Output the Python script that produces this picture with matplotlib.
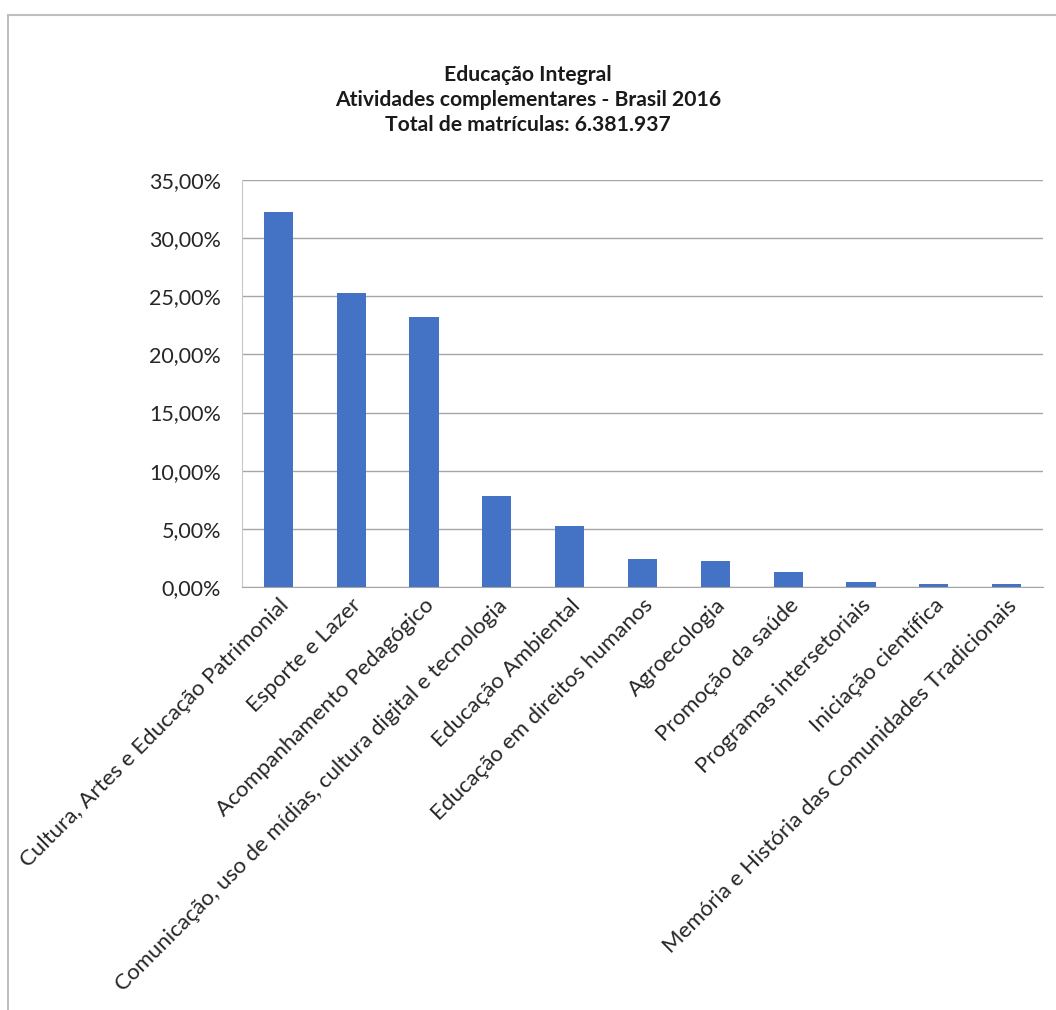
import matplotlib

matplotlib.use("Agg")
import matplotlib.pyplot as plt
from matplotlib.patches import Rectangle
from matplotlib.ticker import FuncFormatter

plt.rcParams["font.family"] = ["Lato", "DejaVu Sans"]

# share of enrolments per complementary activity
categories = [
    "Cultura, Artes e Educação Patrimonial",
    "Esporte e Lazer",
    "Acompanhamento Pedagógico",
    "Comunicação, uso de mídias, cultura digital e tecnologia",
    "Educação Ambiental",
    "Educação em direitos humanos",
    "Agroecologia",
    "Promoção da saúde",
    "Programas intersetoriais",
    "Iniciação científica",
    "Memória e História das Comunidades Tradicionais",
]
shares = [0.3224, 0.2528, 0.2320, 0.0779, 0.0526, 0.0245, 0.0227,
          0.0133, 0.0043, 0.0023, 0.0023]
y_ticks = [0.0, 0.05, 0.10, 0.15, 0.20, 0.25, 0.30, 0.35]
title_lines = [
    "Educação Integral",
    "Atividades complementares - Brasil 2016",
    "Total de matrículas: 6.381.937",
]

W, H = 1056, 1010
BAR = "#4472C4"
GRID = "#a6a6a6"

fig = plt.figure(figsize=(W / 100, H / 100), dpi=100)

# the chart frame, cut off at right and bottom in the original screenshot
fig.add_artist(Rectangle((8 / W, -0.1), 1.2, 1.1 - 15 / H, transform=fig.transFigure,
                         fill=False, ec="#bfbfbf", lw=1.5))

for i, line in enumerate(title_lines):
    fig.text(0.5, 1 - (75 + 25 * i) / H, line, ha="center", va="center",
             fontsize=15.2, fontweight="bold", color="#1a1a1a")

ax = fig.add_axes([242 / W, 1 - 587 / H, (1043 - 242) / W, (587 - 180) / H])
x = range(len(categories))
ax.bar(x, shares, width=0.4, color=BAR, zorder=3)

ax.set_ylim(0, 0.35)
ax.set_xlim(-0.5, len(categories) - 0.5)
ax.set_yticks(y_ticks)
ax.yaxis.set_major_formatter(FuncFormatter(lambda v, _: f"{v * 100:.2f}%".replace(".", ",")))
ax.grid(axis="y", color=GRID, lw=1.0, zorder=0)
for s in ("top", "right"):
    ax.spines[s].set_visible(False)
ax.spines["bottom"].set_color(GRID)
ax.spines["left"].set_color("#c8c8c8")
ax.spines["left"].set_linewidth(0.8)
ax.tick_params(axis="y", length=0, pad=15, labelsize=15.5, labelcolor="#262626")
ax.tick_params(axis="x", length=0, pad=6, labelsize=16, labelcolor="#262626")
ax.set_xticks(list(x))
ax.set_xticklabels(categories, rotation=45, ha="right", rotation_mode="anchor")

fig.savefig("out.png", dpi=100, facecolor="white")
